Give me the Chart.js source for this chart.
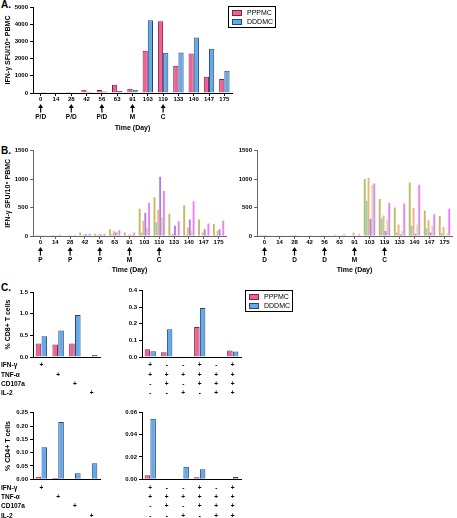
<!DOCTYPE html>
<html>
<head>
<meta charset="utf-8">
<script src="https://cdn.jsdelivr.net/npm/chart.js@4.4.1/dist/chart.umd.min.js"></script>
<style>
body { margin: 0; width: 457px; height: 518px; position: relative; background: #fff; overflow: hidden;
       font-family: 'Liberation Sans', Arial, sans-serif; }
canvas { position: absolute; }
.tag { position: absolute; font-weight: bold; font-size: 10px; line-height: 10px; }
.legend { position: absolute; border: 1px solid #000; width: 46px; height: 20px; font-size: 7px; }
.legend span { position: absolute; left: 3px; width: 8px; height: 4px; border: 1px solid; }
.legend b { position: absolute; left: 18px; font-weight: normal; line-height: 8px; }
</style>
</head>
<body>

<div class="tag" style="left:1px;top:0px">A.</div>
<div class="tag" style="left:1px;top:146px">B.</div>
<div class="tag" style="left:1px;top:283px">C.</div>

<canvas id="chartA" width="240" height="134" style="left:0;top:0"></canvas>
<canvas id="chartBP" width="235" height="130" style="left:0;top:145px"></canvas>
<canvas id="chartBD" width="232" height="130" style="left:225px;top:145px"></canvas>
<canvas id="cd8Single" width="108" height="115" style="left:0;top:285px"></canvas>
<canvas id="cd8Combo" width="140" height="115" style="left:108px;top:285px"></canvas>
<canvas id="cd4Single" width="108" height="113" style="left:0;top:405px"></canvas>
<canvas id="cd4Combo" width="140" height="113" style="left:108px;top:405px"></canvas>

<div class="legend" style="left:228px;top:6px">
  <span style="top:3px;background:#ef6196;border-color:#7b2446"></span><b style="top:2px">PPPMC</b>
  <span style="top:12px;background:#62aaf0;border-color:#2b4665"></span><b style="top:11px">DDDMC</b>
</div>
<div class="legend" style="left:245px;top:290px">
  <span style="top:3px;background:#ef6196;border-color:#7b2446"></span><b style="top:2px">PPPMC</b>
  <span style="top:12px;background:#62aaf0;border-color:#2b4665"></span><b style="top:11px">DDDMC</b>
</div>

<script>
// ---- data ----
const days = ['0', '14', '28', '42', '56', '63', '91', '103', '119', '133', '140', '147', '175'];

// panel A, group means
const pppmcDays = [50, 40, 60, 190, 180, 480, 250, 2450, 4170, 1580, 2290, 950, 810];
const dddmcDays = [60, 15, 20, 70, 80, 120, 190, 4230, 2340, 2350, 3230, 2570, 1290];

// immunisation markers under the day axis
const vaccineDays = ['0', '28', '56', '91', '119'];
const lettersA = ['P/D', 'P/D', 'P/D', 'M', 'C'];
const lettersP = ['P', 'P', 'P', 'M', 'C'];
const lettersD = ['D', 'D', 'D', 'M', 'C'];

// panel B, individual animals (PPPMC group)
const p1 = [5, 5, 10, 60, 40, 120, 60, 480, 680, 390, 540, 290, 210];
const p2 = [2, 2, 5, 15, 15, 30, 10, 60, 240, 20, 20, 10, 20];
const p3 = [3, 5, 10, 25, 30, 90, 30, 270, 460, 40, 150, 60, 90];
const p4 = [3, 5, 10, 30, 25, 60, 20, 410, 1040, 180, 290, 120, 120];
const p5 = [3, 5, 10, 20, 20, 80, 20, 150, 330, 20, 90, 30, 40];
const p6 = [5, 20, 20, 40, 40, 100, 60, 580, 790, 260, 610, 220, 270];

// panel B, individual animals (DDDMC group)
const d1 = [5, 10, 5, 10, 10, 20, 10, 1000, 650, 500, 940, 450, 350];
const d2 = [2, 5, 3, 5, 5, 10, 10, 620, 310, 60, 180, 130, 50];
const d3 = [3, 5, 3, 10, 5, 15, 60, 1020, 360, 200, 490, 280, 160];
const d4 = [2, 3, 2, 5, 5, 10, 10, 300, 90, 30, 40, 60, 10];
const d5 = [3, 10, 5, 10, 10, 20, 15, 900, 290, 90, 200, 180, 40];
const d6 = [3, 5, 5, 15, 15, 25, 30, 920, 580, 570, 900, 380, 480];

// panel C, cytokine rows and +/- patterns (one array per column)
const rowNames = ['IFN-γ', 'TNF-α', 'CD107a', 'IL-2'];
const singleMarks = [['+', '', '', ''], ['', '+', '', ''], ['', '', '+', ''], ['', '', '', '+']];
const comboMarks = [['+', '+', '-', '-'], ['-', '+', '+', '-'], ['-', '+', '-', '+'],
                    ['+', '+', '+', '-'], ['-', '+', '+', '+'], ['+', '+', '+', '+']];

const cd8SinglePPP = [0.31, 0.29, 0.31, 0];
const cd8SingleDDD = [0.48, 0.61, 0.97, 0.045];
const cd8ComboPPP = [0.047, 0.029, 0.005, 0.18, 0, 0.039];
const cd8ComboDDD = [0.035, 0.167, 0.003, 0.295, 0, 0.033];
const cd4SinglePPP = [0.01, 0.005, 0, 0];
const cd4SingleDDD = [0.12, 0.215, 0.0225, 0.06];
const cd4ComboPPP = [0.0036, 0, 0, 0.0018, 0, 0];
const cd4ComboDDD = [0.054, 0, 0.0113, 0.0089, 0, 0.002];

// ---- styling ----
const PINK = '#ef6196', PINK_EDGE = '#7b2446';
const BLUE = '#62aaf0', BLUE_EDGE = '#2b4665';
const animalColors = ['#b8bf5e', '#92ced0', '#f5b07e', '#b07cf0', '#c6e2a0', '#ec7ff2'];
const FONT = "'Liberation Sans', Arial, sans-serif";
const MARK_PAD = 4, MARK_SIZE = 6.5, MARK_LH = 1.43;

Chart.defaults.font.family = FONT;
Chart.defaults.font.weight = 'bold';
Chart.defaults.color = '#000';
Chart.defaults.animation = false;
Chart.defaults.plugins.legend.display = false;
Chart.defaults.plugins.tooltip.enabled = false;

// arrows + letters under the marked days
const arrowPlugin = {
  id: 'arrows',
  afterDraw(chart, args, opts) {
    const ctx = chart.ctx, x = chart.scales.x, base = chart.chartArea.bottom;
    ctx.save();
    ctx.fillStyle = '#000';
    ctx.strokeStyle = '#000';
    ctx.lineWidth = 1.2;
    ctx.font = 'bold 6.5px ' + FONT;
    ctx.textAlign = 'center';
    ctx.textBaseline = 'middle';
    opts.days.forEach(function(d, i) {
      const px = x.getPixelForValue(days.indexOf(d));
      ctx.beginPath();
      ctx.moveTo(px, base + 11);
      ctx.lineTo(px - 2.5, base + 15);
      ctx.lineTo(px + 2.5, base + 15);
      ctx.closePath();
      ctx.fill();
      ctx.beginPath();
      ctx.moveTo(px, base + 14);
      ctx.lineTo(px, base + 19.5);
      ctx.stroke();
      ctx.fillText(opts.letters[i], px, base + 24.5);
    });
    ctx.restore();
  }
};

// cytokine names at the left of the +/- rows
const rowPlugin = {
  id: 'rows',
  afterDraw(chart, args, opts) {
    const ctx = chart.ctx;
    const lh = MARK_SIZE * MARK_LH;
    ctx.save();
    ctx.font = 'bold ' + MARK_SIZE + 'px ' + FONT;
    ctx.fillStyle = '#000';
    ctx.textAlign = 'left';
    ctx.textBaseline = 'middle';
    opts.names.forEach(function(n, i) {
      ctx.fillText(n, 1, chart.chartArea.bottom + MARK_PAD + lh * (i + 0.5));
    });
    ctx.restore();
  }
};

function yAxis(max, step, digits, title, width, color) {
  return {
    min: 0,
    max: max,
    ticks: { stepSize: step, padding: 2, font: { size: 6 }, callback: v => v.toFixed(digits) },
    grid: { drawOnChartArea: false, tickLength: 3, color: color },
    border: { color: color, width: 1 },
    title: { display: !!title, text: title, font: { size: 7 }, padding: { top: 4, bottom: 0 } },
    afterFit(s) { s.width = width; }
  };
}

function dayAxis(height, color, titlePad) {
  return {
    ticks: { padding: 0, font: { size: 6 }, autoSkip: false, maxRotation: 0 },
    grid: { drawOnChartArea: false, offset: false, tickLength: 3, color: color },
    border: { color: color, width: 1 },
    title: { display: true, text: 'Time (Day)', font: { size: 7 }, padding: { top: 0, bottom: titlePad } },
    afterFit(s) { s.height = height; }
  };
}

function markAxis(height) {
  return {
    ticks: { padding: MARK_PAD, font: { size: MARK_SIZE, lineHeight: MARK_LH }, autoSkip: false, maxRotation: 0 },
    grid: { display: false, drawTicks: false },
    border: { color: '#000', width: 1 },
    afterFit(s) { s.height = height; }
  };
}

function pairSets(ppp, ddd) {
  return [
    { label: 'PPPMC', data: ppp, backgroundColor: PINK, borderColor: PINK_EDGE, borderWidth: 1 },
    { label: 'DDDMC', data: ddd, backgroundColor: BLUE, borderColor: BLUE_EDGE, borderWidth: 1 }
  ];
}

function animalSets(series) {
  return series.map(function(s, i) {
    return { label: 'Animal ' + (i + 1), data: s, backgroundColor: animalColors[i], borderWidth: 0 };
  });
}

// ---- A ----
new Chart(document.getElementById('chartA'), {
  type: 'bar',
  data: { labels: days, datasets: pairSets(pppmcDays, dddmcDays) },
  options: {
    responsive: false,
    layout: { padding: { top: 7, right: 8 } },
    datasets: { bar: { categoryPercentage: 0.68, barPercentage: 1 } },
    scales: {
      x: dayAxis(41, '#000', 2),
      y: yAxis(5000, 1000, 0, 'IFN-γ SFU/10⁶ PBMC', 33, '#000')
    },
    plugins: { arrows: { days: vaccineDays, letters: lettersA } }
  },
  plugins: [arrowPlugin]
});

// ---- B ----
function drawAnimals(id, series, letters, title, yWidth, padRight) {
  new Chart(document.getElementById(id), {
    type: 'bar',
    data: { labels: days, datasets: animalSets(series) },
    options: {
      responsive: false,
      layout: { padding: { top: 5, right: padRight } },
      datasets: { bar: { categoryPercentage: 0.76, barPercentage: 1 } },
      scales: {
        x: dayAxis(39, '#666', 1),
        y: yAxis(1500, 500, 0, title, yWidth, '#666')
      },
      plugins: { arrows: { days: vaccineDays, letters: letters } }
    },
    plugins: [arrowPlugin]
  });
}

drawAnimals('chartBP', [p1, p2, p3, p4, p5, p6], lettersP, 'IFN-γ SFU/10⁶ PBMC', 33, 9);
drawAnimals('chartBD', [d1, d2, d3, d4, d5, d6], lettersD, '', 32, 5);

// ---- C ----
function drawCells(id, marks, ppp, ddd, max, step, digits, title, yWidth, padTop, padRight, xHeight) {
  const opts = {
    responsive: false,
    layout: { padding: { top: padTop, right: padRight } },
    datasets: { bar: { categoryPercentage: 0.7, barPercentage: 0.95 } },
    scales: {
      x: markAxis(xHeight),
      y: yAxis(max, step, digits, title, yWidth, '#000')
    },
    plugins: {}
  };
  const extra = [];
  if (title) {
    opts.plugins.rows = { names: rowNames };
    extra.push(rowPlugin);
  }
  new Chart(document.getElementById(id), {
    type: 'bar',
    data: { labels: marks, datasets: pairSets(ppp, ddd) },
    options: opts,
    plugins: extra
  });
}

drawCells('cd8Single', singleMarks, cd8SinglePPP, cd8SingleDDD, 1.5, 0.5, 1, '% CD8+ T cells', 33, 7, 8, 43);
drawCells('cd8Combo', comboMarks, cd8ComboPPP, cd8ComboDDD, 0.4, 0.1, 1, '', 34, 4, 7, 43);
drawCells('cd4Single', singleMarks, cd4SinglePPP, cd4SingleDDD, 0.25, 0.05, 2, '% CD4+ T cells', 33, 7.7, 8, 38.7);
drawCells('cd4Combo', comboMarks, cd4ComboPPP, cd4ComboDDD, 0.06, 0.02, 2, '', 34, 7, 7, 38.7);
</script>
</body>
</html>
